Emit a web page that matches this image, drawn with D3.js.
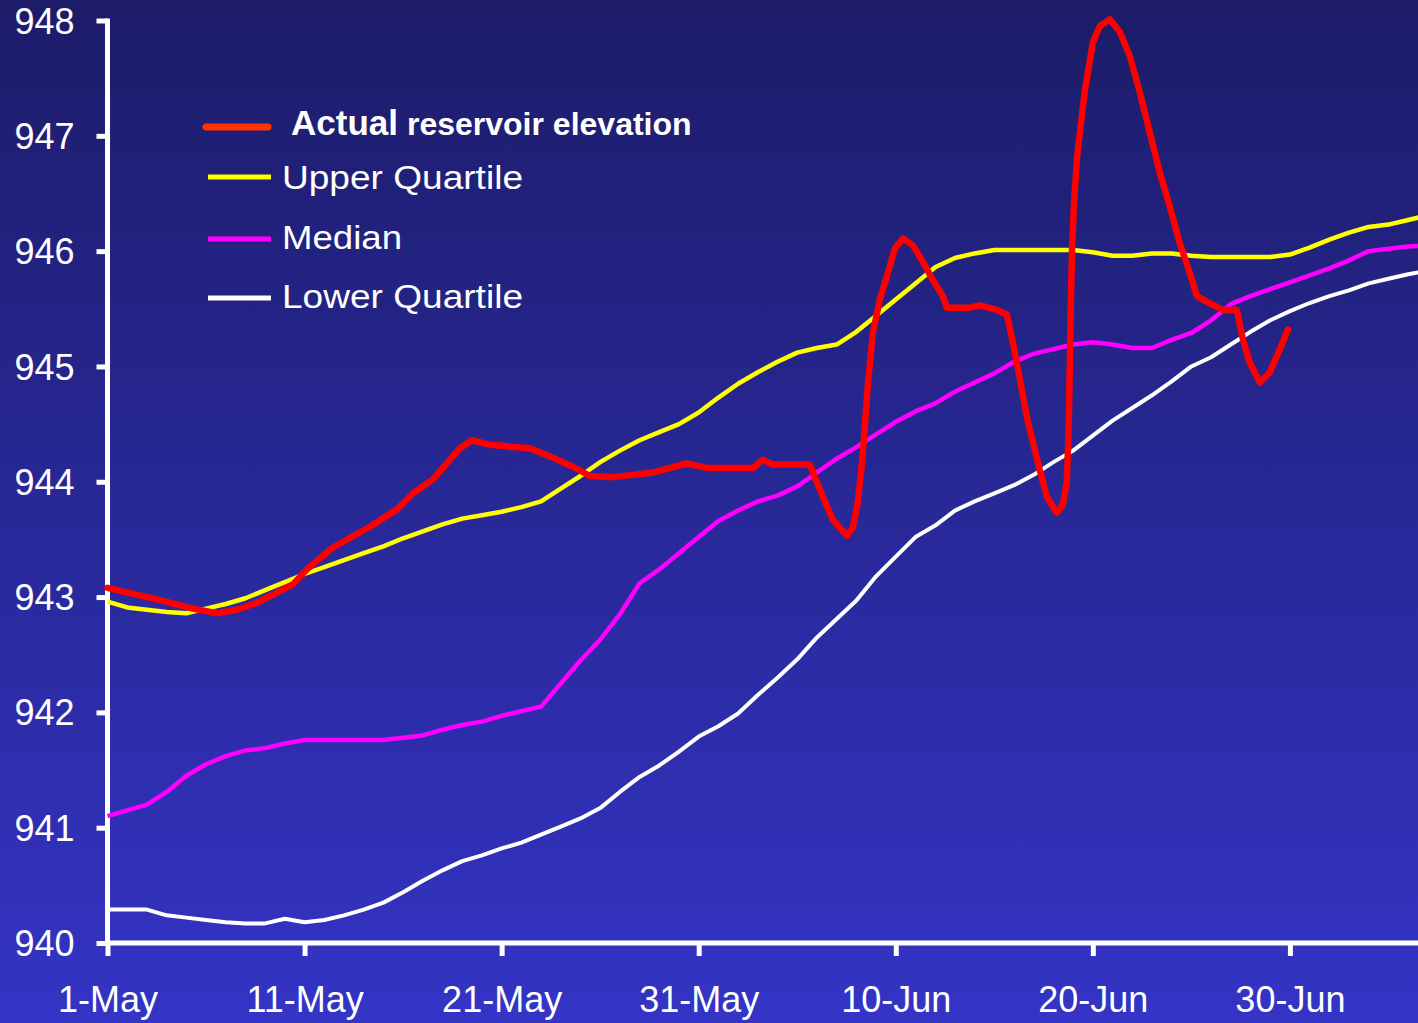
<!DOCTYPE html>
<html>
<head>
<meta charset="utf-8">
<script src="https://cdn.jsdelivr.net/npm/d3@7"></script>
<style>
  html, body { margin: 0; padding: 0; overflow: hidden; background: #2a2a9a; }
  svg { display: block; }
  text { font-family: "Liberation Sans", Arial, sans-serif; fill: #ffffff; }
</style>
</head>
<body>
<svg id="chart" width="1418" height="1023"></svg>
<script>
// Days counted from 1-May (day 0)
const days = d3.range(0, 68);

const upperQuartile = [
  942.96, 942.91, 942.89, 942.87, 942.86, 942.90, 942.94, 942.99, 943.06, 943.13,
  943.20, 943.26, 943.32, 943.38, 943.44, 943.51, 943.57, 943.63, 943.68, 943.71,
  943.74, 943.78, 943.83, 943.94, 944.05, 944.17, 944.27, 944.36, 944.43, 944.50,
  944.60, 944.73, 944.85, 944.95, 945.04, 945.12, 945.16, 945.19, 945.30, 945.44,
  945.58, 945.72, 945.86, 945.94, 945.98, 946.01, 946.01, 946.01, 946.01, 946.01,
  945.99, 945.96, 945.96, 945.98, 945.98, 945.96, 945.95, 945.95, 945.95, 945.95,
  945.97, 946.03, 946.10, 946.16, 946.21, 946.23, 946.27, 946.31
];

const median = [
  941.10, 941.15, 941.20, 941.31, 941.45, 941.55, 941.62, 941.67, 941.69, 941.73,
  941.76, 941.76, 941.76, 941.76, 941.76, 941.78, 941.80, 941.85, 941.89, 941.92,
  941.97, 942.01, 942.05, 942.25, 942.45, 942.63, 942.85, 943.12, 943.24, 943.38,
  943.52, 943.66, 943.75, 943.83, 943.88, 943.96, 944.08, 944.20, 944.30, 944.41,
  944.52, 944.61, 944.68, 944.78, 944.86, 944.94, 945.04, 945.11, 945.15, 945.19,
  945.21, 945.19, 945.16, 945.16, 945.23, 945.29, 945.40, 945.54, 945.61, 945.67,
  945.73, 945.79, 945.85, 945.92, 946.00, 946.02, 946.04, 946.05
];

const lowerQuartile = [
  940.29, 940.29, 940.29, 940.24, 940.22, 940.20, 940.18, 940.17, 940.17, 940.21,
  940.18, 940.20, 940.24, 940.29, 940.35, 940.44, 940.54, 940.63, 940.71, 940.76,
  940.82, 940.87, 940.94, 941.01, 941.08, 941.17, 941.31, 941.44, 941.54, 941.66,
  941.79, 941.88, 941.99, 942.15, 942.30, 942.46, 942.65, 942.81, 942.97, 943.18,
  943.35, 943.52, 943.62, 943.75, 943.83, 943.90, 943.97, 944.06, 944.17, 944.27,
  944.40, 944.53, 944.64, 944.75, 944.87, 945.00, 945.08, 945.19, 945.30, 945.40,
  945.48, 945.55, 945.61, 945.66, 945.72, 945.76, 945.80, 945.83
];

// Actual elevation, recorded at irregular times (fractional days)
const actualDays = [
  0, 2.51, 4.34, 5.56, 6.57, 7.58, 9.41, 10.12, 11.44, 13.32,
  14.69, 15.50, 16.52, 17.88, 18.49, 19.41, 21.43, 22.45, 23.62, 24.48,
  25.65, 27.68, 29.40, 30.41, 32.75, 33.25, 33.76, 35.64, 36.30, 36.81,
  37.52, 37.82, 38.07, 38.28, 38.43, 38.59, 38.84, 39.19, 39.70, 39.95,
  40.36, 40.87, 41.37, 41.88, 42.39, 42.59, 43.76, 44.27, 45.13, 45.64,
  45.94, 46.30, 46.65, 47.31, 47.67, 48.17, 48.48, 48.68, 48.78, 48.83,
  48.88, 48.94, 49.04, 49.19, 49.39, 49.60, 49.75, 50.00, 50.35, 50.86,
  51.37, 51.88, 52.38, 52.89, 53.40, 53.90, 54.41, 54.92, 55.28, 55.79,
  56.60, 57.31, 57.62, 57.97, 58.48, 58.98, 59.49, 59.90
];
const actualElevation = [
  943.08, 942.98, 942.90, 942.86, 942.89, 942.95, 943.11, 943.24, 943.43, 943.61,
  943.76, 943.90, 944.02, 944.29, 944.36, 944.32, 944.29, 944.22, 944.13, 944.05,
  944.04, 944.08, 944.16, 944.12, 944.12, 944.19, 944.15, 944.15, 943.87, 943.67,
  943.53, 943.60, 943.82, 944.15, 944.48, 944.86, 945.29, 945.58, 945.87, 946.02,
  946.11, 946.05, 945.91, 945.75, 945.61, 945.51, 945.51, 945.53, 945.49, 945.45,
  945.21, 944.89, 944.56, 944.10, 943.87, 943.73, 943.80, 944.00, 944.50, 945.00,
  945.50, 946.00, 946.40, 946.80, 947.10, 947.40, 947.55, 947.81, 947.95, 948.01,
  947.90, 947.69, 947.38, 947.03, 946.68, 946.39, 946.07, 945.81, 945.61, 945.56,
  945.49, 945.49, 945.23, 945.03, 944.86, 944.95, 945.15, 945.32
];

const xTickDays = [0, 10, 20, 30, 40, 50, 60];
const xTickLabels = ["1-May", "11-May", "21-May", "31-May", "10-Jun", "20-Jun", "30-Jun"];
const yTicks = [940, 941, 942, 943, 944, 945, 946, 947, 948];

const svg = d3.select("#chart");
const W = 1418, H = 1023;

// Background gradient, dark navy at the top to bright blue at the bottom
const defs = svg.append("defs");
const grad = defs.append("linearGradient")
  .attr("id", "bg").attr("x1", 0).attr("y1", 0).attr("x2", 0).attr("y2", 1);
grad.append("stop").attr("offset", "0%").attr("stop-color", "#1c1c69");
grad.append("stop").attr("offset", "100%").attr("stop-color", "#3434c6");
svg.append("rect").attr("width", W).attr("height", H).attr("fill", "url(#bg)");

const x = d3.scaleLinear().domain([0, 66.5]).range([107.5, 1418]);
const y = d3.scaleLinear().domain([940, 948]).range([943, 20.5]);

// Axes
const yAxis = d3.axisLeft(y).tickValues(yTicks).tickSize(11).tickPadding(22)
  .tickFormat(d3.format("d"));
const yG = svg.append("g").attr("transform", `translate(${x(0)},0)`).call(yAxis);
yG.select(".domain").remove();
yG.selectAll(".tick line").attr("stroke", "#fff").attr("stroke-width", 5);
yG.selectAll(".tick text").attr("font-size", 36).attr("fill", "#fff")
  .attr("dy", "0.35em").attr("font-family", "Liberation Sans, Arial, sans-serif");

const xAxis = d3.axisBottom(x).tickValues(xTickDays).tickSize(13).tickPadding(30)
  .tickFormat((d, i) => xTickLabels[i]);
const xG = svg.append("g").attr("transform", `translate(0,${y(940)})`).call(xAxis);
xG.select(".domain").remove();
xG.selectAll(".tick line").attr("stroke", "#fff").attr("stroke-width", 5);
xG.selectAll(".tick text").attr("font-size", 36).attr("fill", "#fff")
  .attr("dy", "0.71em").attr("font-family", "Liberation Sans, Arial, sans-serif");

// Axis lines
svg.append("line").attr("x1", x(0)).attr("x2", x(0)).attr("y1", y(948) - 2).attr("y2", y(940) + 2)
  .attr("stroke", "#fff").attr("stroke-width", 5);
svg.append("line").attr("x1", x(0) - 2).attr("x2", W).attr("y1", y(940)).attr("y2", y(940))
  .attr("stroke", "#fff").attr("stroke-width", 5);

// Series lines
const line = d3.line().x(d => x(d[0])).y(d => y(d[1])).curve(d3.curveLinear);
const series = [
  { values: lowerQuartile, color: "#ffffff", width: 4 },
  { values: median, color: "#ff00ff", width: 4.5 },
  { values: upperQuartile, color: "#ffff00", width: 4.5 }
];
series.forEach(s => {
  svg.append("path")
    .datum(days.map((d, i) => [d, s.values[i]]))
    .attr("d", line)
    .attr("fill", "none")
    .attr("stroke", s.color)
    .attr("stroke-width", s.width)
    .attr("stroke-linejoin", "round");
});
svg.append("path")
  .datum(actualDays.map((d, i) => [d, actualElevation[i]]))
  .attr("d", line)
  .attr("fill", "none")
  .attr("stroke", "#ff0000")
  .attr("stroke-width", 6.5)
  .attr("stroke-linejoin", "round")
  .attr("stroke-linecap", "round");

// Legend
const legend = svg.append("g");
legend.append("line").attr("x1", 206).attr("x2", 268).attr("y1", 127).attr("y2", 127)
  .attr("stroke", "#ff3300").attr("stroke-width", 7).attr("stroke-linecap", "round");
const t1 = legend.append("text").attr("x", 291).attr("y", 135).attr("font-weight", "bold");
t1.append("tspan").attr("font-size", 35).text("Actual");
t1.append("tspan").attr("font-size", 32).attr("dx", 9).text("reservoir elevation");

const legendItems = [
  { label: "Upper Quartile", color: "#ffff00", ly: 177, ty: 189, len: 241 },
  { label: "Median", color: "#ff00ff", ly: 239, ty: 249, len: 120 },
  { label: "Lower Quartile", color: "#ffffff", ly: 298, ty: 308, len: 241 }
];
legendItems.forEach(it => {
  legend.append("line").attr("x1", 208).attr("x2", 271).attr("y1", it.ly).attr("y2", it.ly)
    .attr("stroke", it.color).attr("stroke-width", 5);
  legend.append("text").attr("x", 282).attr("y", it.ty).attr("font-size", 33)
    .attr("textLength", it.len).attr("lengthAdjust", "spacingAndGlyphs")
    .text(it.label);
});
</script>
</body>
</html>
